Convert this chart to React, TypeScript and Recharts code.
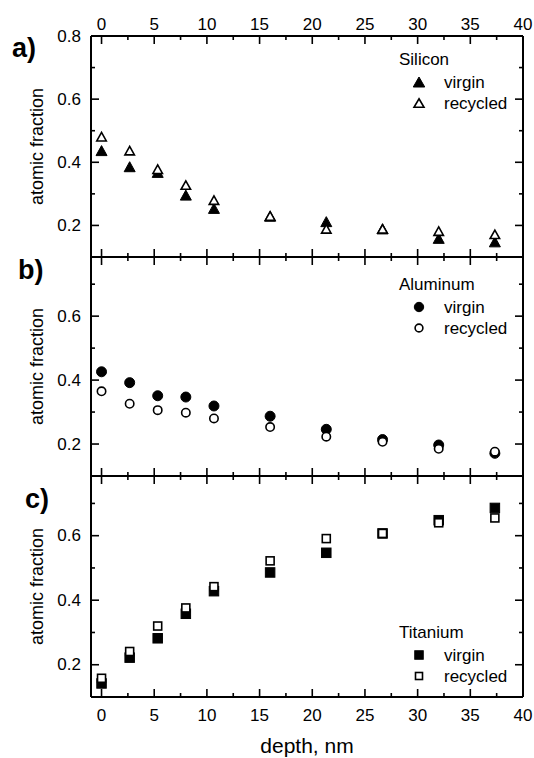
import React from "react";
import { ScatterChart, Scatter, XAxis, YAxis, Legend } from "recharts";

// depth of each sputter step, nm
const depthNm = [0, 2.67, 5.33, 8, 10.67, 16, 21.33, 26.67, 32, 37.33];

const siliconVirgin = [0.437, 0.386, 0.368, 0.296, 0.254, 0.229, 0.212, 0.189, 0.159, 0.148];
const siliconRecycled = [0.481, 0.437, 0.378, 0.328, 0.28, 0.23, 0.189, 0.189, 0.182, 0.172];

const aluminumVirgin = [0.426, 0.392, 0.351, 0.347, 0.319, 0.287, 0.246, 0.214, 0.197, 0.171];
const aluminumRecycled = [0.365, 0.326, 0.306, 0.298, 0.28, 0.253, 0.223, 0.207, 0.185, 0.176];

const titaniumVirgin = [0.142, 0.222, 0.282, 0.358, 0.428, 0.486, 0.547, 0.607, 0.648, 0.686];
const titaniumRecycled = [0.158, 0.241, 0.32, 0.376, 0.442, 0.522, 0.591, 0.607, 0.64, 0.655];

const xTicks = [0, 2.5, 5, 7.5, 10, 12.5, 15, 17.5, 20, 22.5, 25, 27.5, 30, 32.5, 35, 37.5, 40];
const yTicksTop = [0.2, 0.3, 0.4, 0.5, 0.6, 0.7, 0.8];
const yTicks = [0.2, 0.3, 0.4, 0.5, 0.6, 0.7];

const W = 534;
const H = 758;
const PLOT_LEFT = 91;
const PLOT_RIGHT = 523;
const FONT = "'Liberation Sans', Arial, Helvetica, sans-serif";

type Kind = "triangle" | "circle" | "square";

const toPoints = (ys: number[]) => depthNm.map((x, i) => ({ x, y: ys[i] }));

const Marker = ({ kind, filled, cx, cy, small }: { kind: Kind; filled: boolean; cx: number; cy: number; small?: boolean }) => {
    const sw = filled ? 1 : 1.6;
    const fill = filled ? "#000" : "#fff";
    if (kind === "triangle") {
        const w = (small ? 11.5 : 11) - (filled ? 0 : 1.5);
        const h = 10 - (filled ? 0 : 1.5);
        const pts = `${cx},${cy - h / 2} ${cx + w / 2},${cy + h / 2} ${cx - w / 2},${cy + h / 2}`;
        return <polygon points={pts} fill={fill} stroke="#000" strokeWidth={sw} />;
    }
    if (kind === "circle") {
        const r = (small ? 4.7 : 5) - (filled ? 0 : 0.8);
        return <circle cx={cx} cy={cy} r={r} fill={fill} stroke="#000" strokeWidth={sw} />;
    }
    const s = (small ? 8.5 : 9.5) - (filled ? 0 : 1.5);
    return <rect x={cx - s / 2} y={cy - s / 2} width={s} height={s} fill={fill} stroke="#000" strokeWidth={sw} />;
};

const isMajorX = (v: number) => Math.abs(v / 5 - Math.round(v / 5)) < 1e-6;
const isMajorY = (v: number) => Math.round(v * 10) % 2 === 0;

const XTick = (props: any) => {
    const { x, y, payload, side, labels } = props;
    const v = payload.value;
    const major = isMajorX(v);
    const len = major ? 8 : 4;
    const dir = side === "bottom" ? -1 : 1;
    return (
        <g>
            <line x1={x} x2={x} y1={y} y2={y + dir * len} stroke="#000" strokeWidth={1.6} />
            {labels && major && (
                <text x={x} y={side === "bottom" ? y + 24 : y - 6} textAnchor="middle" fontSize={17} fontFamily={FONT} fill="#000">
                    {String(v)}
                </text>
            )}
        </g>
    );
};

const YTick = (props: any) => {
    const { x, y, payload, side } = props;
    const v = payload.value;
    const major = isMajorY(v);
    const len = major ? 8 : 4;
    const dir = side === "left" ? 1 : -1;
    return (
        <g>
            <line x1={x} x2={x + dir * len} y1={y} y2={y} stroke="#000" strokeWidth={1.6} />
            {side === "left" && major && (
                <text x={x - 10} y={y} dy="0.33em" textAnchor="end" fontSize={17} fontFamily={FONT} fill="#000">
                    {v.toFixed(1)}
                </text>
            )}
        </g>
    );
};

interface PanelProps {
    top: number;
    bottom: number;
    yDomain: [number, number];
    yTickList: number[];
    kind: Kind;
    title: string;
    virgin: number[];
    recycled: number[];
    letter: string;
    letterX: number;
    letterY: number;
    legendBaseline: number;
    topLabels?: boolean;
    bottomLabels?: boolean;
}

const Panel = (p: PanelProps) => {
    const axisLine = { stroke: "#000", strokeWidth: 2 };
    const midY = (p.top + p.bottom) / 2;

    const legendContent = (lp: any) => {
        const items = [...((lp.payload || []) as any[])].sort((a, b) =>
            a.value === "virgin" ? -1 : b.value === "virgin" ? 1 : 0
        );
        return (
            <svg width={130} height={70} style={{ overflow: "visible", display: "block" }}>
                <text x={0} y={16} fontSize={17} fontFamily={FONT} fill="#000">
                    {p.title}
                </text>
                {items.map((it, i) => (
                    <g key={String(it.value)}>
                        <Marker kind={p.kind} filled={it.value === "virgin"} cx={20} cy={33 + 21 * i} small />
                        <text x={45} y={38.5 + 21 * i} fontSize={17} fontFamily={FONT} fill="#000">
                            {it.value}
                        </text>
                    </g>
                ))}
            </svg>
        );
    };

    // axes get 1px of room so that recharts draws them; the plot box sits on the margins
    return (
        <div style={{ position: "absolute", left: 0, top: 0 }}>
            <ScatterChart
                width={W}
                height={H}
                margin={{ top: p.top - 1, bottom: H - p.bottom - 1, left: PLOT_LEFT - 1, right: W - PLOT_RIGHT - 1 }}
            >
                <XAxis
                    xAxisId="b"
                    type="number"
                    dataKey="x"
                    orientation="bottom"
                    domain={[-1, 40]}
                    ticks={xTicks}
                    interval={0}
                    height={1}
                    tickSize={0}
                    tickMargin={0}
                    tickLine={false}
                    axisLine={axisLine}
                    tick={(tp: any) => <XTick {...tp} side="bottom" labels={!!p.bottomLabels} />}
                />
                <XAxis
                    xAxisId="t"
                    type="number"
                    dataKey="x"
                    orientation="top"
                    domain={[-1, 40]}
                    ticks={xTicks}
                    interval={0}
                    height={1}
                    tickSize={0}
                    tickMargin={0}
                    tickLine={false}
                    axisLine={axisLine}
                    tick={(tp: any) => <XTick {...tp} side="top" labels={!!p.topLabels} />}
                />
                <YAxis
                    yAxisId="l"
                    type="number"
                    dataKey="y"
                    orientation="left"
                    domain={p.yDomain}
                    ticks={p.yTickList}
                    interval={0}
                    width={1}
                    tickSize={0}
                    tickMargin={0}
                    tickLine={false}
                    axisLine={axisLine}
                    tick={(tp: any) => <YTick {...tp} side="left" />}
                />
                <YAxis
                    yAxisId="r"
                    type="number"
                    dataKey="y"
                    orientation="right"
                    domain={p.yDomain}
                    ticks={p.yTickList}
                    interval={0}
                    width={1}
                    tickSize={0}
                    tickMargin={0}
                    tickLine={false}
                    axisLine={axisLine}
                    tick={(tp: any) => <YTick {...tp} side="right" />}
                />
                <Scatter
                    name="virgin"
                    data={toPoints(p.virgin)}
                    xAxisId="b"
                    yAxisId="l"
                    isAnimationActive={false}
                    shape={(sp: any) => <Marker kind={p.kind} filled cx={sp.cx} cy={sp.cy} />}
                />
                <Scatter
                    name="recycled"
                    data={toPoints(p.recycled)}
                    xAxisId="t"
                    yAxisId="r"
                    isAnimationActive={false}
                    shape={(sp: any) => <Marker kind={p.kind} filled={false} cx={sp.cx} cy={sp.cy} />}
                />
                <Legend
                    layout="vertical"
                    align="center"
                    verticalAlign="middle"
                    content={legendContent}
                    wrapperStyle={{ left: 399, top: p.legendBaseline - 16, width: 130, height: 70, bottom: "auto", right: "auto" }}
                />
                <text x={p.letterX} y={p.letterY} fontSize={27} fontWeight="bold" fontFamily={FONT} fill="#000">
                    {p.letter}
                </text>
                <text
                    x={43}
                    y={midY}
                    transform={`rotate(-90, 43, ${midY})`}
                    textAnchor="middle"
                    fontSize={18}
                    fontFamily={FONT}
                    fill="#000"
                >
                    atomic fraction
                </text>
                {p.bottomLabels && (
                    <text x={(PLOT_LEFT + PLOT_RIGHT) / 2} y={753} textAnchor="middle" fontSize={21} fontFamily={FONT} fill="#000">
                        depth, nm
                    </text>
                )}
            </ScatterChart>
        </div>
    );
};

const App = () => (
    <div style={{ position: "absolute", left: 0, top: 0, width: W, height: H, background: "#fff", overflow: "hidden" }}>
        <Panel
            top={36}
            bottom={257}
            yDomain={[0.1, 0.8]}
            yTickList={yTicksTop}
            kind="triangle"
            title="Silicon"
            virgin={siliconVirgin}
            recycled={siliconRecycled}
            letter="a)"
            letterX={12}
            letterY={57}
            legendBaseline={65}
            topLabels
        />
        <Panel
            top={257}
            bottom={476}
            yDomain={[0.1, 0.785]}
            yTickList={yTicks}
            kind="circle"
            title="Aluminum"
            virgin={aluminumVirgin}
            recycled={aluminumRecycled}
            letter="b)"
            letterX={18}
            letterY={279}
            legendBaseline={290}
        />
        <Panel
            top={476}
            bottom={697}
            yDomain={[0.1, 0.785]}
            yTickList={yTicks}
            kind="square"
            title="Titanium"
            virgin={titaniumVirgin}
            recycled={titaniumRecycled}
            letter="c)"
            letterX={25}
            letterY={508}
            legendBaseline={638}
            bottomLabels
        />
    </div>
);

export default App;
